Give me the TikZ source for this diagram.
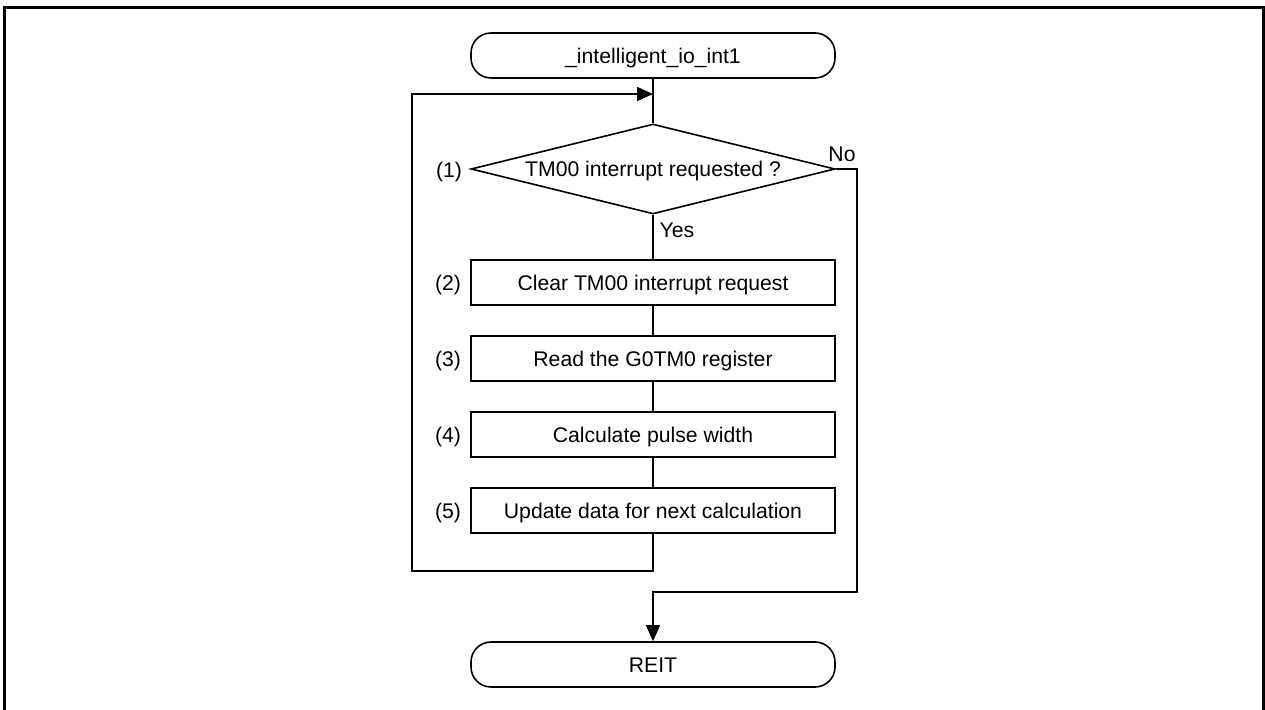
\documentclass[tikz,border=0pt]{standalone}
\usepackage{fontspec}
\setmainfont{Liberation Sans}
\usetikzlibrary{shapes.geometric,arrows.meta}
\tikzset{
  every node/.style={font=\fontsize{10.6}{12.7}\selectfont},
  line/.style={line width=0.8pt, draw=black},
  arr/.style={line, -{Triangle[length=8pt,width=7pt]}},
  term/.style={draw, line width=0.8pt, rectangle, rounded corners=10pt, minimum width=182pt, minimum height=22.5pt, inner sep=0pt, text height=7.6pt, text depth=0pt},
  proc/.style={draw, line width=0.8pt, rectangle, minimum width=182pt, minimum height=22.5pt, inner sep=0pt, text height=7.6pt, text depth=0pt},
  decis/.style={draw, line width=0.8pt, diamond, minimum width=182pt, minimum height=45pt, inner sep=0pt, text height=7.6pt, text depth=0pt},
  lbl/.style={inner sep=0pt, text height=7.6pt, text depth=0pt}
}
\begin{document}
\begin{tikzpicture}[x=0.5pt,y=-0.5pt]
\useasboundingbox (0,0) rectangle (1265,710);
% frame (open at bottom)
\draw[line width=1.7pt] (4.5,710) -- (4.5,7.3) -- (1263.5,7.3) -- (1263.5,710);

\node[term] (start) at (653,55.5) {\_intelligent\_io\_int1};
\node[decis] (dec) at (653,169) {\makebox[0pt]{TM00 interrupt requested ?}};
\node[proc] (b2) at (653,282.5) {Clear TM00 interrupt request};
\node[proc] (b3) at (653,358.5) {Read the G0TM0 register};
\node[proc] (b4) at (653,434.5) {Calculate pulse width};
\node[proc] (b5) at (653,510.5) {Update data for next calculation};
\node[term] (reit) at (653,664.5) {REIT};

\node[lbl] (l1) at (449,170) {(1)};
\node[lbl] (l2) at (448,283) {(2)};
\node[lbl] (l3) at (448,359) {(3)};
\node[lbl] (l4) at (448,435) {(4)};
\node[lbl] (l5) at (448,511) {(5)};
\node[lbl] (no) at (842,154) {No};
\node[lbl] (yes) at (677,230) {Yes};

\coordinate (j1) at (653,94);
\coordinate (lp1) at (653,571);
\coordinate (lp2) at (412,571);
\coordinate (lp3) at (412,94);
\coordinate (n1) at (857,169);
\coordinate (n2) at (857,592);
\coordinate (n3) at (653,592);

\draw[line] (start.south) -- (dec.north);
\draw[line] (dec.south) -- (b2.north);
\draw[line] (b2.south) -- (b3.north);
\draw[line] (b3.south) -- (b4.north);
\draw[line] (b4.south) -- (b5.north);
\draw[arr] (b5.south) -- (lp1) -- (lp2) -- (lp3) -- (j1);
\draw[arr] (dec.east) -- (n1) -- (n2) -- (n3) -- (reit.north);
\end{tikzpicture}
\end{document}
